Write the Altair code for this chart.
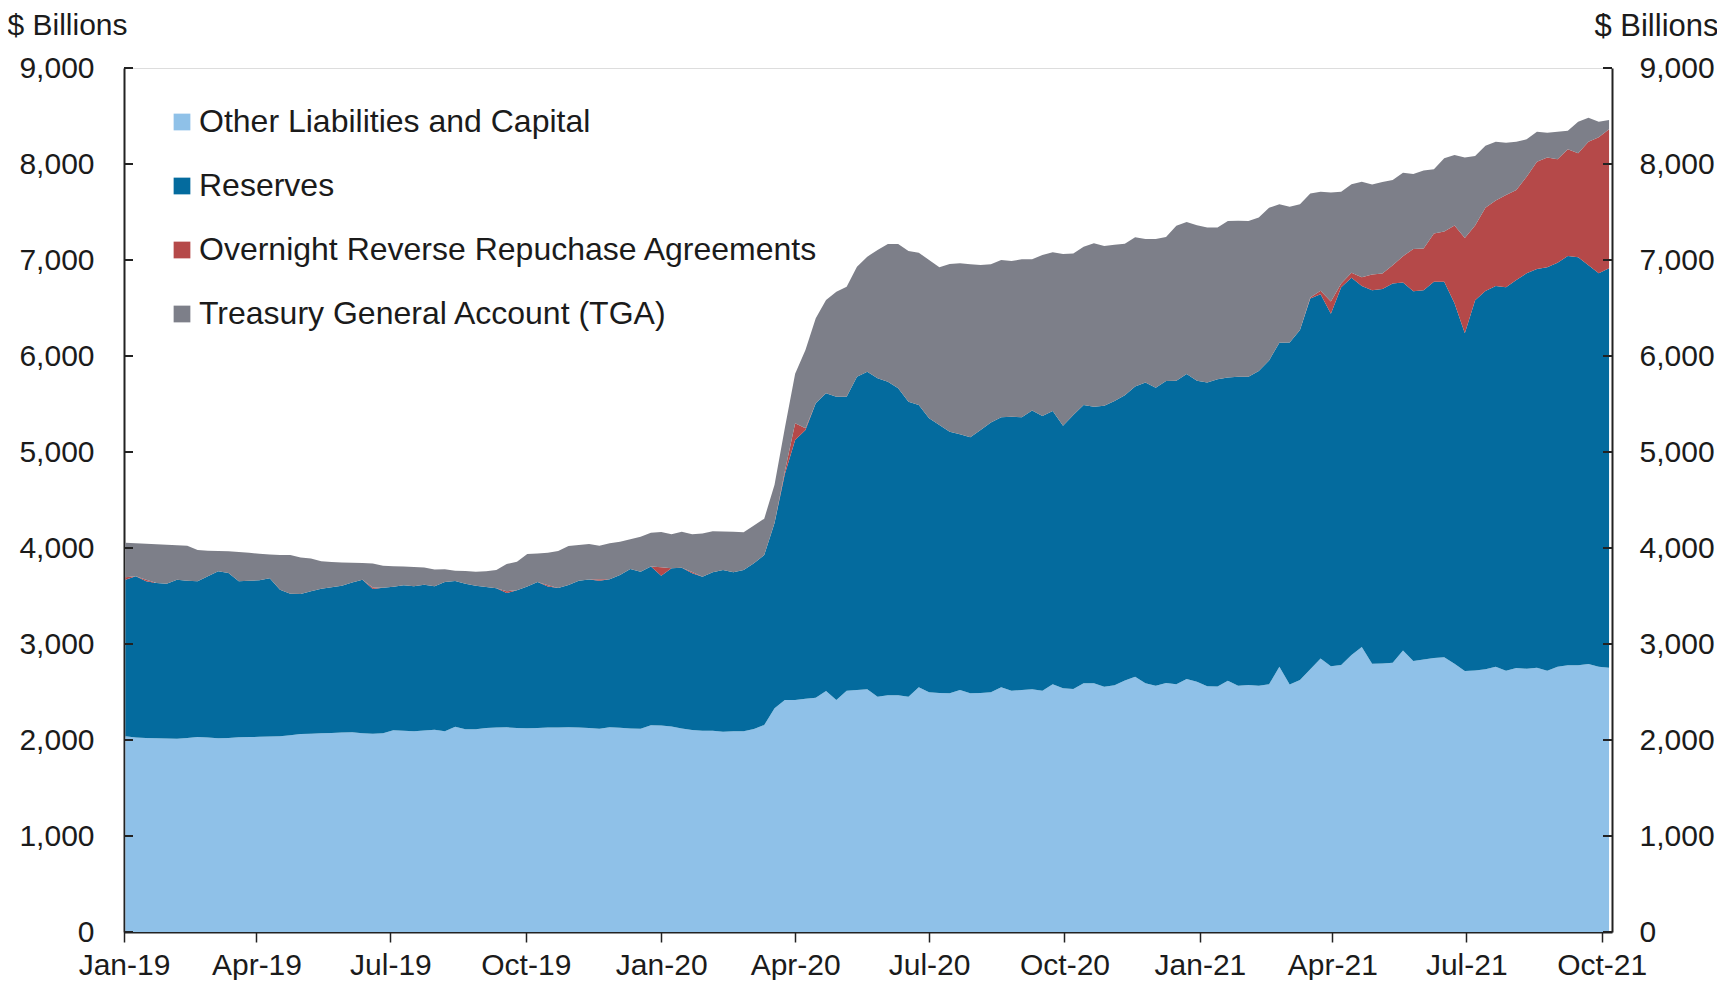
import altair as alt
import pandas as pd

# ---------------- data ($ billions, weekly) ----------------
START_DATE = "2019-01-02"
N_WEEKS = 145

SERIES = [
    "Other Liabilities and Capital",
    "Reserves",
    "Overnight Reverse Repuchase Agreements",
    "Treasury General Account (TGA)",
]
COLORS = ["#8FC1E8", "#046B9E", "#B54949", "#7D7F89"]

# top of "Other Liabilities and Capital"
OTHER_TOP = [
    2040, 2025, 2022, 2018, 2015, 2014, 2022, 2031, 2025, 2018,
    2022, 2028, 2030, 2033, 2036, 2040, 2050, 2063, 2066, 2070,
    2073, 2078, 2080, 2070, 2066, 2070, 2101, 2096, 2090, 2100,
    2108, 2090, 2139, 2111, 2111, 2125, 2130, 2132, 2125, 2122,
    2125, 2129, 2130, 2132, 2131, 2125, 2118, 2132, 2128, 2120,
    2118, 2153, 2150, 2140, 2120, 2105, 2097, 2097, 2087, 2090,
    2092, 2115, 2156, 2330, 2417, 2417, 2430, 2441, 2510, 2417,
    2514, 2520, 2528, 2451, 2465, 2465, 2451, 2549, 2497, 2490,
    2486, 2521, 2486, 2490, 2497, 2549, 2514, 2520, 2528, 2514,
    2580, 2538, 2531, 2590, 2590, 2555, 2570, 2620, 2658, 2592,
    2566, 2595, 2580, 2636, 2606, 2561, 2558, 2618, 2566, 2573,
    2566, 2580, 2763, 2577, 2625, 2736, 2848, 2767, 2781, 2885,
    2968, 2793, 2796, 2804, 2933, 2822, 2838, 2855, 2863, 2793,
    2718, 2725, 2736, 2763, 2722, 2750, 2743, 2753, 2722, 2764,
    2778, 2778, 2792, 2764, 2753,
]

# top of "Reserves" (stacked level)
RESERVES_TOP = [
    3670, 3705, 3653, 3635, 3628, 3670, 3660, 3653, 3705, 3757,
    3740, 3653, 3658, 3663, 3684, 3566, 3524, 3521, 3549, 3575,
    3592, 3608, 3640, 3670, 3573, 3585, 3596, 3611, 3601, 3618,
    3601, 3646, 3656, 3628, 3608, 3595, 3580, 3531, 3559, 3600,
    3645, 3600, 3583, 3615, 3660, 3672, 3660, 3674, 3719, 3781,
    3753, 3806, 3712, 3788, 3795, 3736, 3701, 3747, 3771, 3747,
    3771, 3840, 3927, 4260, 4770, 5125, 5229, 5507, 5611, 5576,
    5576, 5785, 5837, 5767, 5733, 5663, 5524, 5490, 5351, 5281,
    5212, 5184, 5153, 5229, 5306, 5361, 5368, 5361, 5431, 5375,
    5427, 5274, 5385, 5490, 5472, 5483, 5530, 5590, 5683, 5724,
    5668, 5739, 5742, 5813, 5742, 5724, 5757, 5776, 5784, 5784,
    5843, 5954, 6137, 6141, 6271, 6598, 6643, 6439, 6717, 6815,
    6730, 6685, 6697, 6755, 6765, 6675, 6684, 6773, 6773, 6550,
    6238, 6580, 6677, 6730, 6715, 6792, 6861, 6906, 6924, 6972,
    7042, 7028, 6945, 6861, 6913,
]

# top of "Overnight Reverse Repuchase Agreements" (stacked level)
RRP_TOP = [
    3695, 3705, 3668, 3635, 3628, 3670, 3660, 3653, 3705, 3757,
    3740, 3653, 3658, 3663, 3684, 3566, 3524, 3521, 3549, 3575,
    3592, 3608, 3640, 3670, 3588, 3585, 3596, 3611, 3601, 3618,
    3601, 3646, 3656, 3628, 3608, 3595, 3580, 3550, 3559, 3600,
    3645, 3612, 3583, 3615, 3660, 3672, 3675, 3674, 3719, 3781,
    3753, 3806, 3800, 3788, 3795, 3750, 3701, 3747, 3771, 3747,
    3771, 3840, 3927, 4260, 4800, 5299, 5247, 5507, 5611, 5576,
    5576, 5785, 5837, 5767, 5733, 5663, 5524, 5490, 5351, 5281,
    5212, 5184, 5153, 5229, 5306, 5361, 5368, 5361, 5431, 5375,
    5427, 5274, 5385, 5490, 5472, 5483, 5530, 5590, 5683, 5724,
    5668, 5739, 5742, 5813, 5742, 5724, 5757, 5776, 5784, 5784,
    5843, 5954, 6137, 6141, 6271, 6610, 6680, 6569, 6754, 6866,
    6820, 6850, 6860, 6945, 7040, 7115, 7120, 7277, 7298, 7359,
    7228, 7360, 7544, 7621, 7677, 7729, 7868, 8024, 8069, 8049,
    8153, 8111, 8233, 8278, 8361,
]

# top of "Treasury General Account (TGA)" = total
TOTAL_TOP = [
    4055, 4050, 4045, 4040, 4035, 4028, 4024, 3979, 3972, 3968,
    3965, 3958, 3951, 3940, 3932, 3928, 3927, 3900, 3890, 3862,
    3855, 3850, 3846, 3844, 3838, 3815, 3810, 3808, 3803, 3796,
    3776, 3778, 3764, 3760, 3753, 3758, 3771, 3833, 3858, 3937,
    3944, 3950, 3969, 4021, 4030, 4042, 4024, 4049, 4065, 4090,
    4118, 4160, 4167, 4142, 4170, 4142, 4150, 4174, 4172, 4170,
    4165, 4235, 4305, 4660, 5250, 5815, 6063, 6392, 6583, 6670,
    6722, 6930, 7035, 7104, 7167, 7167, 7094, 7076, 7000, 6924,
    6958, 6965, 6955, 6948, 6955, 7000, 6990, 7007, 7007, 7052,
    7080, 7063, 7069, 7139, 7174, 7146, 7158, 7170, 7236, 7220,
    7220, 7239, 7357, 7395, 7361, 7339, 7339, 7405, 7410, 7405,
    7443, 7543, 7580, 7554, 7580, 7692, 7710, 7703, 7710, 7790,
    7815, 7786, 7812, 7833, 7910, 7896, 7931, 7945, 8059, 8094,
    8069, 8083, 8191, 8233, 8222, 8233, 8257, 8337, 8326, 8337,
    8347, 8441, 8483, 8441, 8458,
]

Y_TICKS = [0, 1000, 2000, 3000, 4000, 5000, 6000, 7000, 8000, 9000]
X_TICK_MONTHS = [(2019, 1), (2019, 4), (2019, 7), (2019, 10),
                 (2020, 1), (2020, 4), (2020, 7), (2020, 10),
                 (2021, 1), (2021, 4), (2021, 7), (2021, 10)]
Y_TITLE = "$ Billions"

# ---------------- build table ----------------
dates = pd.date_range(START_DATE, periods=N_WEEKS, freq="7D")
BASE = [0] * N_WEEKS
levels = [BASE, OTHER_TOP, RESERVES_TOP, RRP_TOP, TOTAL_TOP]
rows = []
for k, name in enumerate(SERIES):
    for i, d in enumerate(dates):
        rows.append({"date": d, "series": name,
                     "low": levels[k][i], "high": levels[k + 1][i]})
df = pd.DataFrame(rows)
ticks_df = pd.DataFrame({"v": Y_TICKS})

W, H = 1488, 864
FONT = "Liberation Sans"
TXT = "#1b1b1b"

x_scale = alt.Scale(domain=[alt.DateTime(year=2019, month=1, date=1),
                            alt.DateTime(year=2021, month=10, date=8)])
y_scale = alt.Scale(domain=[0, 9000], nice=False)

x_enc = alt.X(
    "date:T", scale=x_scale, title=None,
    axis=alt.Axis(
        values=[alt.DateTime(year=y, month=m, date=1) for y, m in X_TICK_MONTHS],
        format="%b-%y", labelFontSize=30, labelPadding=8, tickSize=10,
        tickColor="#222", tickWidth=1.5, domainColor="#222", domainWidth=2,
        labelColor=TXT, grid=False, labelFont=FONT,
        labelAlign="center", labelOverlap=False, labelFlush=False,
    ),
)

areas = alt.Chart(df).mark_area(interpolate="linear").encode(
    x=x_enc,
    y=alt.Y("high:Q", scale=y_scale,
            axis=alt.Axis(orient="left", values=Y_TICKS, format=",d",
                          labelFontSize=30, labelPadding=30, ticks=False, tickSize=0,
                          domainColor="#222", domainWidth=2, labelColor=TXT,
                          grid=False, labelFont=FONT, labelOverlap=False,
                          title=Y_TITLE, titleAngle=0, titleAlign="left",
                          titleBaseline="alphabetic", titleX=-117, titleY=-34,
                          titleFontSize=30, titleFontWeight="normal",
                          titleColor=TXT, titleFont=FONT)),
    y2="low:Q",
    color=alt.Color(
        "series:N",
        scale=alt.Scale(domain=SERIES, range=COLORS),
        legend=alt.Legend(
            orient="none", legendX=42, legendY=38, direction="vertical",
            title=None, symbolType="square", symbolSize=280,
            symbolStrokeWidth=0, symbolOpacity=1, labelFontSize=32,
            labelFont=FONT, labelColor=TXT, labelOffset=1,
            rowPadding=32, padding=0, labelLimit=800,
        ),
    ),
)

left_ticks = alt.Chart(ticks_df).mark_rule(color="#222", strokeWidth=2).encode(
    y=alt.Y("v:Q", scale=y_scale, axis=None),
    x=alt.value(0), x2=alt.value(9),
)

right_ticks = alt.Chart(ticks_df).mark_rule(color="#222", strokeWidth=2).encode(
    y=alt.Y("v:Q", scale=y_scale,
            axis=alt.Axis(orient="right", values=Y_TICKS, format=",d",
                          labelFontSize=30, labelPadding=27, ticks=False, tickSize=0,
                          domainColor="#222", domainWidth=2, labelColor=TXT,
                          grid=False, labelFont=FONT, labelOverlap=False,
                          title=Y_TITLE, titleAngle=0, titleAlign="right",
                          titleBaseline="alphabetic", titleX=106, titleY=-33,
                          titleFontSize=31, titleFontWeight="normal",
                          titleColor=TXT, titleFont=FONT)),
    x=alt.value(W - 9), x2=alt.value(W),
)

chart = (
    alt.layer(areas, left_ticks, right_ticks)
    .resolve_axis(y="independent")
    .properties(
        width=W, height=H,
        autosize=alt.AutoSizeParams(type="none"),
        padding={"left": 116, "top": 60, "right": 105, "bottom": 48},
        background="white",
    )
    .configure_view(strokeWidth=0, strokeOpacity=0)
    .configure(font=FONT)
)

chart.save("out.html", embed_options={"renderer": "svg", "actions": False})
